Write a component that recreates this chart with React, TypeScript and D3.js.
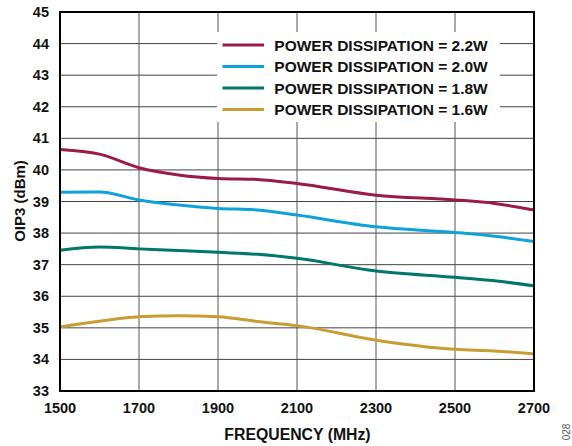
import React from 'react';
import * as d3 from 'd3';

// data
const freqs = [1500, 1600, 1700, 1800, 1900, 2000, 2100, 2300, 2500, 2600, 2700];
const pd22 = [40.65, 40.5, 40.07, 39.84, 39.73, 39.7, 39.57, 39.2, 39.05, 38.94, 38.73];
const pd20 = [39.29, 39.3, 39.05, 38.89, 38.78, 38.73, 38.57, 38.2, 38.02, 37.9, 37.73];
const pd18 = [37.46, 37.56, 37.5, 37.45, 37.39, 37.33, 37.2, 36.8, 36.6, 36.49, 36.33];
const pd16 = [35.03, 35.21, 35.35, 35.38, 35.35, 35.2, 35.07, 34.61, 34.32, 34.27, 34.17];
const seriesNames = ['POWER DISSIPATION = 2.2W', 'POWER DISSIPATION = 2.0W', 'POWER DISSIPATION = 1.8W', 'POWER DISSIPATION = 1.6W'];
const seriesColors = ['#9c1b42', '#0ea2db', '#00766d', '#c99d33'];
const xTicks = [1500, 1700, 1900, 2100, 2300, 2500, 2700];
const yTicks = [33, 34, 35, 36, 37, 38, 39, 40, 41, 42, 43, 44, 45];

export default function App() {
  const width = 572;
  const height = 446;
  const margin = { top: 12, right: 38, bottom: 55, left: 60 };
  const innerWidth = width - margin.left - margin.right;
  const innerHeight = height - margin.top - margin.bottom;
  const xScale = d3.scaleLinear().domain([1500, 2700]).range([0, innerWidth]);
  const yScale = d3.scaleLinear().domain([33, 45]).range([innerHeight, 0]);
  const line = d3
    .line<number>()
    .x((_, i) => xScale(freqs[i]))
    .y((d) => yScale(d))
    .curve(d3.curveMonotoneX);
  const series = [pd22, pd20, pd18, pd16];
  const font = '"Liberation Sans", Arial, sans-serif';

  return (
    <svg width={width} height={height} style={{ position: 'absolute', left: 0, top: 0 }} fontFamily={font}>
      <g transform={`translate(${margin.left},${margin.top})`}>
        {/* grid */}
        {yTicks.map((t) => (
          <line key={'gy' + t} x1={0} x2={innerWidth} y1={yScale(t)} y2={yScale(t)} stroke='#444' strokeWidth={1} />
        ))}
        {xTicks.map((t) => (
          <line key={'gx' + t} x1={xScale(t)} x2={xScale(t)} y1={0} y2={innerHeight} stroke='#555' strokeWidth={1} />
        ))}
        {/* legend */}
        <rect x={157} y={20} width={283} height={90} fill='#fff' />
        {seriesNames.map((name, i) => (
          <g key={name} transform={`translate(162.5,${33 + i * 21.5})`}>
            <line x1={0} x2={41.5} y1={0} y2={0} stroke={seriesColors[i]} strokeWidth={3} />
            <text x={51.8} y={5.5} fontSize={15.5} fontWeight='bold' fill='#111'>
              {name}
            </text>
          </g>
        ))}
        {/* lines */}
        {series.map((s, i) => (
          <path key={i} d={line(s) || ''} fill='none' stroke={seriesColors[i]} strokeWidth={3} />
        ))}
        {/* frame */}
        <rect x={0} y={0} width={innerWidth} height={innerHeight} fill='none' stroke='#000' strokeWidth={2} />
        {/* ticks */}
        {yTicks.map((t) => (
          <text key={'ty' + t} x={-11} y={yScale(t) + 5} textAnchor='end' fontSize={14.5} fontWeight='bold' fill='#111'>
            {t}
          </text>
        ))}
        {xTicks.map((t) => (
          <text key={'tx' + t} x={xScale(t)} y={innerHeight + 22} textAnchor='middle' fontSize={14.5} fontWeight='bold' fill='#111'>
            {t}
          </text>
        ))}
        <text x={innerWidth / 2 + 0.5} y={innerHeight + 49} textAnchor='middle' fontSize={15.8} fontWeight='bold' fill='#111'>
          FREQUENCY (MHz)
        </text>
        <text transform={`translate(-35,${innerHeight / 2 - 0.5}) rotate(-90)`} textAnchor='middle' fontSize={15} fontWeight='bold' fill='#111'>
          OIP3 (dBm)
        </text>
      </g>
      <text transform='translate(570,432) rotate(-90)' textAnchor='middle' fontSize={10} fill='#555'>
        028
      </text>
    </svg>
  );
}
